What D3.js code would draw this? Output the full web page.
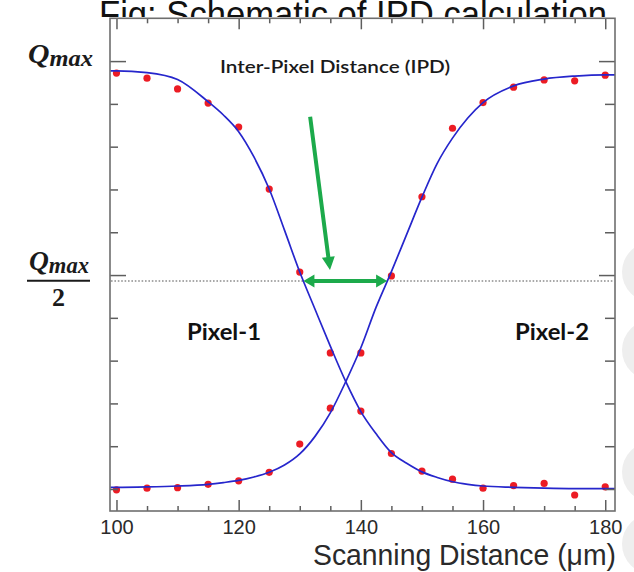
<!DOCTYPE html>
<html>
<head>
<meta charset="utf-8">
<script src="https://cdn.jsdelivr.net/npm/d3@7"></script>
<style>
  html, body { margin: 0; padding: 0; background: #fff; }
  svg { display: block; }
</style>
</head>
<body>
<svg id="chart" width="634" height="572"></svg>
<script>
// Measured charge (fraction of Q_max) at each scan position, for both pixels
const scanPositions = [100, 105, 110, 115, 120, 125, 130, 135, 140, 145, 150, 155, 160, 165, 170, 175, 180];
const pixel1Charge  = [0.972, 0.960, 0.935, 0.902, 0.846, 0.701, 0.507, 0.318, 0.182, 0.083, 0.042, 0.023, 0.002, 0.008, 0.013, -0.014, 0.005];
const pixel2Charge  = [-0.002, 0.002, 0.003, 0.011, 0.019, 0.039, 0.105, 0.189, 0.318, 0.498, 0.683, 0.843, 0.903, 0.939, 0.956, 0.954, 0.967];

// Fitted response curves sampled along the scan
const fitPositions = [99, 100, 105, 110, 115, 117.5, 120, 122.5, 125, 127.5, 130, 132.5, 135, 137.5, 140, 142.5, 145, 147.5, 150, 152.5, 155, 157.5, 160, 165, 170, 175, 180, 181.6];
const pixel1Fit    = [0.977, 0.977, 0.973, 0.957, 0.905, 0.874, 0.835, 0.776, 0.701, 0.605, 0.507, 0.420, 0.334, 0.252, 0.181, 0.129, 0.085, 0.060, 0.040, 0.027, 0.017, 0.011, 0.007, 0.004, 0.002, 0.001, 0.001, 0.001];
const pixel2Fit    = [0.004, 0.004, 0.005, 0.007, 0.011, 0.015, 0.020, 0.028, 0.039, 0.056, 0.082, 0.123, 0.178, 0.250, 0.330, 0.425, 0.508, 0.595, 0.682, 0.761, 0.820, 0.867, 0.903, 0.942, 0.958, 0.965, 0.968, 0.968];

// Axis ticks
const xMajorTicks = [100, 120, 140, 160, 180];
const xMinorTicks = [105, 110, 115, 125, 130, 135, 145, 150, 155, 165, 170, 175];
const yTicks      = [0, 0.1, 0.2, 0.3, 0.4, 0.5, 0.6, 0.7, 0.8, 0.9, 1.0];
const yLongTicks  = [0.5, 1.0];

// Half-maximum level and the inter-pixel distance it defines
const halfMaxLevel = 0.486;
const ipdStart = 130.6;
const ipdEnd   = 144.3;
const pointerFrom = [131.7, 0.870];
const pointerTo   = [134.95, 0.512];

const W = 634, H = 572;
const plot = { left: 110, right: 615, top: 18.3, bottom: 511 };

const svg = d3.select("#chart");

const x = d3.scaleLinear().domain([98.94, 181.6]).range([plot.left, plot.right]);
const y = d3.scaleLinear().domain([-0.0514, 1.1]).range([plot.bottom, plot.top]);

const sans = "'Liberation Sans', Arial, sans-serif";
const labelFont = "Lato, 'Open Sans', sans-serif";
const mathFont = "'Liberation Serif', 'DejaVu Serif', serif";
const frameColor = "#6e6e6e";
const tickColor = "#5e5e5e";
const dotColor = "#ec1c24";
const curveColor = "#2626cc";
const arrowColor = "#1caa4b";

// Page caption, partly covered by the figure
svg.append("text")
  .attr("x", 99).attr("y", 27)
  .attr("font-family", sans).attr("font-size", 36)
  .attr("fill", "#111")
  .attr("textLength", 508).attr("lengthAdjust", "spacingAndGlyphs")
  .text("Fig: Schematic of IPD calculation");

// Soft page elements at the right edge
[272, 350, 472, 544].forEach(cy => {
  svg.append("circle").attr("cx", 652).attr("cy", cy).attr("r", 30).attr("fill", "#eeeeee");
});

// Figure background
svg.append("rect").attr("x", 0).attr("y", 17).attr("width", 622).attr("height", H - 17).attr("fill", "#fff");

// Clip for the plotted marks
svg.append("clipPath").attr("id", "plotClip")
  .append("rect").attr("x", plot.left).attr("y", plot.top)
  .attr("width", plot.right - plot.left).attr("height", plot.bottom - plot.top);

// Half-maximum reference line
svg.append("line")
  .attr("x1", plot.left + 1).attr("x2", plot.right - 1)
  .attr("y1", y(halfMaxLevel)).attr("y2", y(halfMaxLevel))
  .attr("stroke", "#8d8d8d").attr("stroke-width", 1.5)
  .attr("stroke-dasharray", "1.6,1.8");

const marks = svg.append("g").attr("clip-path", "url(#plotClip)");

// Measured points
[pixel1Charge, pixel2Charge].forEach(series => {
  marks.append("g").selectAll("circle")
    .data(scanPositions.map((p, i) => [p, series[i]]))
    .join("circle")
    .attr("cx", d => x(d[0])).attr("cy", d => y(d[1]))
    .attr("r", 3.6).attr("fill", dotColor);
});

// Fitted curves
const line = d3.line().x(d => x(d[0])).y(d => y(d[1])).curve(d3.curveMonotoneX);
[pixel1Fit, pixel2Fit].forEach(series => {
  marks.append("path")
    .datum(fitPositions.map((p, i) => [p, series[i]]))
    .attr("d", line)
    .attr("fill", "none").attr("stroke", curveColor).attr("stroke-width", 1.7);
});

// Arrows marking the inter-pixel distance
function doubleArrow(x1, x2, yy, L, Hh, t) {
  return [[x1, yy], [x1 + L, yy - Hh], [x1 + L, yy - t], [x2 - L, yy - t], [x2 - L, yy - Hh],
          [x2, yy], [x2 - L, yy + Hh], [x2 - L, yy + t], [x1 + L, yy + t], [x1 + L, yy + Hh]];
}
function singleArrow(p0, p1, L, Hh, t) {
  const dx = p1[0] - p0[0], dy = p1[1] - p0[1];
  const len = Math.hypot(dx, dy);
  const ux = dx / len, uy = dy / len, nx = -uy, ny = ux;
  const bx = p1[0] - ux * L, by = p1[1] - uy * L;
  return [[p0[0] + nx * t, p0[1] + ny * t], [bx + nx * t, by + ny * t], [bx + nx * Hh, by + ny * Hh],
          [p1[0], p1[1]], [bx - nx * Hh, by - ny * Hh], [bx - nx * t, by - ny * t], [p0[0] - nx * t, p0[1] - ny * t]];
}
const poly = d3.line();
svg.append("path")
  .attr("d", poly(doubleArrow(x(ipdStart), x(ipdEnd), y(halfMaxLevel), 11, 6.5, 2)) + "Z")
  .attr("fill", arrowColor);
svg.append("path")
  .attr("d", poly(singleArrow([x(pointerFrom[0]), y(pointerFrom[1])], [x(pointerTo[0]), y(pointerTo[1])], 13, 6.5, 2)) + "Z")
  .attr("fill", arrowColor);

// Axes with inward ticks on all four sides
function styleAxis(g) {
  g.select(".domain").remove();
  g.selectAll(".tick line").attr("stroke", tickColor).attr("stroke-width", 1.5);
}
svg.append("g").attr("transform", `translate(0,${plot.bottom})`)
  .call(d3.axisBottom(x).tickValues(xMajorTicks).tickSize(-11).tickPadding(9).tickFormat(d3.format("d")))
  .call(styleAxis)
  .call(g => g.selectAll("text").attr("font-family", sans).attr("font-size", 20).attr("fill", "#2a2a2a"));
svg.append("g").attr("transform", `translate(0,${plot.bottom})`)
  .call(d3.axisBottom(x).tickValues(xMinorTicks).tickSize(-5).tickFormat(""))
  .call(styleAxis);
svg.append("g").attr("transform", `translate(0,${plot.top})`)
  .call(d3.axisTop(x).tickValues(xMajorTicks).tickSize(-11).tickFormat(""))
  .call(styleAxis);
svg.append("g").attr("transform", `translate(0,${plot.top})`)
  .call(d3.axisTop(x).tickValues(xMinorTicks).tickSize(-5).tickFormat(""))
  .call(styleAxis);
svg.append("g").attr("transform", `translate(${plot.left},0)`)
  .call(d3.axisLeft(y).tickValues(yTicks.filter(v => !yLongTicks.includes(v))).tickSize(-8).tickFormat(""))
  .call(styleAxis);
svg.append("g").attr("transform", `translate(${plot.left},0)`)
  .call(d3.axisLeft(y).tickValues(yLongTicks).tickSize(-16).tickFormat(""))
  .call(styleAxis);
svg.append("g").attr("transform", `translate(${plot.right},0)`)
  .call(d3.axisRight(y).tickValues(yTicks.filter(v => !yLongTicks.includes(v))).tickSize(-10).tickFormat(""))
  .call(styleAxis);
svg.append("g").attr("transform", `translate(${plot.right},0)`)
  .call(d3.axisRight(y).tickValues(yLongTicks).tickSize(-16).tickFormat(""))
  .call(styleAxis);

// Plot frame
svg.append("rect")
  .attr("x", plot.left).attr("y", plot.top)
  .attr("width", plot.right - plot.left).attr("height", plot.bottom - plot.top)
  .attr("fill", "none").attr("stroke", frameColor).attr("stroke-width", 1.6);

// Axis title
svg.append("text")
  .attr("x", 313).attr("y", 565)
  .attr("font-family", sans).attr("font-size", 29).attr("fill", "#2a2a2a")
  .attr("textLength", 303).attr("lengthAdjust", "spacingAndGlyphs")
  .text("Scanning Distance (μm)");

// Q_max label at the top tick
function qMax(g, xq, base) {
  const t = g.append("text").attr("x", xq).attr("y", base)
    .attr("font-family", mathFont).attr("font-weight", "bold").attr("font-style", "italic")
    .attr("fill", "#1a1a1a");
  t.append("tspan").attr("font-size", 28).text("Q");
  t.append("tspan").attr("font-size", 23).attr("dy", 3).text("max");
  return t;
}
const labels = svg.append("g");
qMax(labels, 28, y(1.0) + 2).attr("textLength", 65).attr("lengthAdjust", "spacingAndGlyphs");

// Q_max / 2 label at the half-maximum tick
qMax(labels, 29, 270).attr("textLength", 60).attr("lengthAdjust", "spacingAndGlyphs");
labels.append("line").attr("x1", 27).attr("x2", 90).attr("y1", 280.7).attr("y2", 280.7)
  .attr("stroke", "#1a1a1a").attr("stroke-width", 2);
labels.append("text").attr("x", 58.5).attr("y", 306).attr("text-anchor", "middle")
  .attr("font-family", mathFont).attr("font-weight", "bold").attr("font-size", 26)
  .attr("fill", "#1a1a1a").text("2");

// Annotations
svg.append("text").attr("x", 220).attr("y", 73)
  .attr("font-family", labelFont).attr("font-weight", 600).attr("font-size", 16.5)
  .attr("fill", "#1a1a1a").attr("textLength", 230).attr("lengthAdjust", "spacingAndGlyphs")
  .text("Inter-Pixel Distance (IPD)");
svg.append("text").attr("x", 187).attr("y", 340)
  .attr("font-family", labelFont).attr("font-weight", 700).attr("font-size", 23)
  .attr("fill", "#111").attr("textLength", 74).attr("lengthAdjust", "spacingAndGlyphs")
  .text("Pixel-1");
svg.append("text").attr("x", 515).attr("y", 340)
  .attr("font-family", labelFont).attr("font-weight", 700).attr("font-size", 23)
  .attr("fill", "#111").attr("textLength", 74).attr("lengthAdjust", "spacingAndGlyphs")
  .text("Pixel-2");
</script>
</body>
</html>
